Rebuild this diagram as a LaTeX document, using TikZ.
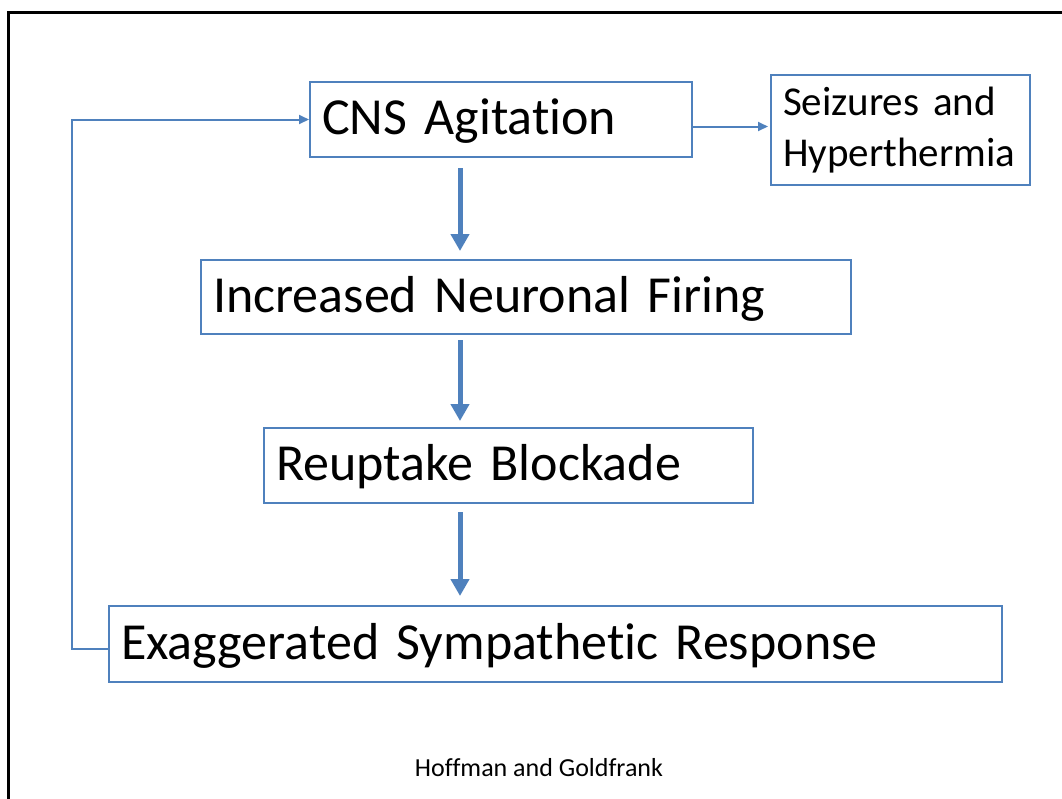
\documentclass[tikz,border=0pt]{standalone}
\usepackage{fontspec}
\setmainfont{Carlito}[Ligatures={NoCommon}]
\usepackage{tikz}
\usetikzlibrary{positioning,arrows.meta,calc}

\definecolor{offblue}{RGB}{79,129,189}

\begin{document}
\begin{tikzpicture}[
  x=0.5pt, y=-0.5pt,
  plain box/.style={rectangle, draw=offblue, line width=1pt, inner xsep=5pt, inner ysep=2pt, align=left},
  box/.style={plain box, text depth=3pt, font=\fontsize{26}{31}\selectfont},
  sidebox/.style={plain box, font=\fontsize{20.5}{25.5}\selectfont},
  flow/.style={-{Triangle[length=8.5pt,width=9pt]}, line width=2.5pt, draw=offblue},
  link/.style={-{Triangle[length=5pt,width=4.5pt]}, line width=1pt, draw=offblue},
  frame/.style={line width=1.5pt, draw=black}
]
\useasboundingbox (0,0) rectangle (1062,799);

% Slide frame
\draw[frame] (1062,12) -- (8.5,12) -- (8.5,799);

% Cycle
\node[box, minimum width=191pt, minimum height=37.5pt, text width=179pt] (cns) at (501,119.5) {CNS Agitation};
\node[box, minimum width=325pt, minimum height=37pt, text width=313pt] (firing) at (526,297) {Increased Neuronal Firing};
\node[box, minimum width=244.5pt, minimum height=37.5pt, text width=232.5pt] (block) at (508.5,465.5) {Reuptake Blockade};
\node[box, minimum width=446.5pt, minimum height=38pt, text width=434.5pt] (exag) at (555.5,644) {Exaggerated Sympathetic Response};

% Side effect
\node[sidebox, minimum width=129.5pt, minimum height=55pt, text width=117.5pt] (seiz) at (900.5,130) {Seizures and\\Hyperthermia};

% Source
\node[font=\fontsize{13}{15}\selectfont] (src) at (539,768) {Hoffman and Goldfrank};

% Main arrows
\coordinate (spine) at (460,0);
\draw[flow, shorten <=5pt, shorten >=4pt] (cns.south -| spine) -- (firing.north -| spine);
\draw[flow, shorten <=2.5pt, shorten >=3pt] (firing.south -| spine) -- (block.north -| spine);
\draw[flow, shorten <=4pt, shorten >=4.5pt] (block.south -| spine) -- (exag.north -| spine);

% Side arrow
\draw[link, shorten >=1pt] ([yshift=-3.5pt]cns.east) -- ([yshift=-3.5pt]cns.east -| seiz.west);

% Feedback loop
\draw[link] ([yshift=-2.5pt]exag.west) -- ++(-36,0) |- (cns.west);

\end{tikzpicture}
\end{document}
